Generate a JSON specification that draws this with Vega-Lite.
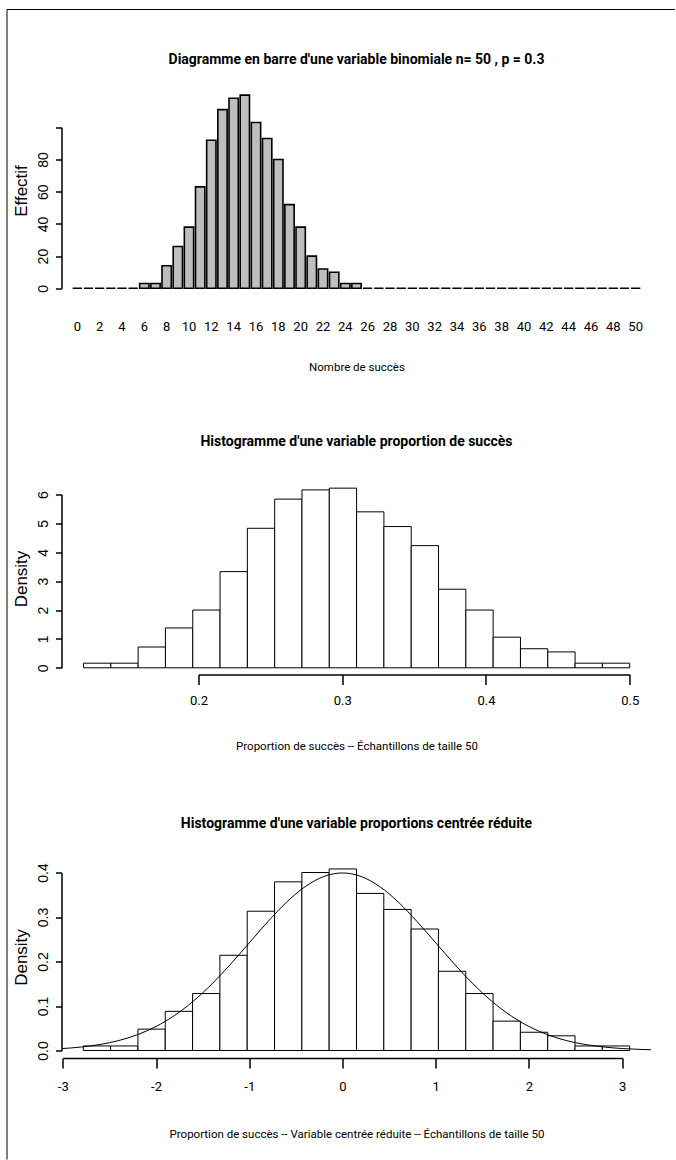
{
  "$schema": "https://vega.github.io/schema/vega-lite/v6.json",
  "background": "white",
  "padding": {"left": 6.5, "top": 8.5, "right": 0, "bottom": 0},
  "bounds": "flush",
  "spacing": 54,
  "config": {
    "view": {"stroke": null},
    "axis": {"grid": false, "domainColor": "black", "tickColor": "black", "labelColor": "black", "titleColor": "black", "domainWidth": 1.5, "tickWidth": 1.5, "labelOverlap": false, "titleFontWeight": "normal"},
    "title": {"font": "Roboto", "fontWeight": "bold", "fontSize": 14, "color": "black", "anchor": "middle", "frame": "group", "baseline": "alphabetic"}
  },
  "datasets": {
    "binom": [
      {"k": 0, "n": 0}, {"k": 1, "n": 0}, {"k": 2, "n": 0}, {"k": 3, "n": 0}, {"k": 4, "n": 0}, {"k": 5, "n": 0},
      {"k": 6, "n": 3}, {"k": 7, "n": 3}, {"k": 8, "n": 14}, {"k": 9, "n": 26}, {"k": 10, "n": 38},
      {"k": 11, "n": 63}, {"k": 12, "n": 92}, {"k": 13, "n": 111}, {"k": 14, "n": 118}, {"k": 15, "n": 120},
      {"k": 16, "n": 103}, {"k": 17, "n": 93}, {"k": 18, "n": 80}, {"k": 19, "n": 52}, {"k": 20, "n": 38},
      {"k": 21, "n": 20}, {"k": 22, "n": 12}, {"k": 23, "n": 10}, {"k": 24, "n": 3}, {"k": 25, "n": 3},
      {"k": 26, "n": 0}, {"k": 27, "n": 0}, {"k": 28, "n": 0}, {"k": 29, "n": 0}, {"k": 30, "n": 0},
      {"k": 31, "n": 0}, {"k": 32, "n": 0}, {"k": 33, "n": 0}, {"k": 34, "n": 0}, {"k": 35, "n": 0},
      {"k": 36, "n": 0}, {"k": 37, "n": 0}, {"k": 38, "n": 0}, {"k": 39, "n": 0}, {"k": 40, "n": 0},
      {"k": 41, "n": 0}, {"k": 42, "n": 0}, {"k": 43, "n": 0}, {"k": 44, "n": 0}, {"k": 45, "n": 0},
      {"k": 46, "n": 0}, {"k": 47, "n": 0}, {"k": 48, "n": 0}, {"k": 49, "n": 0}, {"k": 50, "n": 0}
    ],
    "prop": [
      {"x0": 0.12, "x1": 0.139, "d": 0.16}, {"x0": 0.139, "x1": 0.158, "d": 0.16},
      {"x0": 0.158, "x1": 0.177, "d": 0.72}, {"x0": 0.177, "x1": 0.196, "d": 1.38},
      {"x0": 0.196, "x1": 0.215, "d": 2.0}, {"x0": 0.215, "x1": 0.234, "d": 3.33},
      {"x0": 0.234, "x1": 0.253, "d": 4.83}, {"x0": 0.253, "x1": 0.272, "d": 5.84},
      {"x0": 0.272, "x1": 0.291, "d": 6.16}, {"x0": 0.291, "x1": 0.31, "d": 6.22},
      {"x0": 0.31, "x1": 0.329, "d": 5.4}, {"x0": 0.329, "x1": 0.348, "d": 4.89},
      {"x0": 0.348, "x1": 0.367, "d": 4.23}, {"x0": 0.367, "x1": 0.386, "d": 2.72},
      {"x0": 0.386, "x1": 0.405, "d": 2.0}, {"x0": 0.405, "x1": 0.424, "d": 1.06},
      {"x0": 0.424, "x1": 0.443, "d": 0.66}, {"x0": 0.443, "x1": 0.462, "d": 0.55},
      {"x0": 0.462, "x1": 0.481, "d": 0.16}, {"x0": 0.481, "x1": 0.5, "d": 0.16}
    ],
    "zhist": [
      {"x0": -2.78, "x1": -2.487, "d": 0.0102}, {"x0": -2.487, "x1": -2.194, "d": 0.0102},
      {"x0": -2.194, "x1": -1.901, "d": 0.048}, {"x0": -1.901, "x1": -1.608, "d": 0.088},
      {"x0": -1.608, "x1": -1.315, "d": 0.128}, {"x0": -1.315, "x1": -1.022, "d": 0.214},
      {"x0": -1.022, "x1": -0.729, "d": 0.313}, {"x0": -0.729, "x1": -0.436, "d": 0.379},
      {"x0": -0.436, "x1": -0.143, "d": 0.4}, {"x0": -0.143, "x1": 0.15, "d": 0.408},
      {"x0": 0.15, "x1": 0.443, "d": 0.353}, {"x0": 0.443, "x1": 0.736, "d": 0.317},
      {"x0": 0.736, "x1": 1.029, "d": 0.273}, {"x0": 1.029, "x1": 1.322, "d": 0.178},
      {"x0": 1.322, "x1": 1.615, "d": 0.128}, {"x0": 1.615, "x1": 1.908, "d": 0.066},
      {"x0": 1.908, "x1": 2.201, "d": 0.041}, {"x0": 2.201, "x1": 2.494, "d": 0.033},
      {"x0": 2.494, "x1": 2.787, "d": 0.0102}, {"x0": 2.787, "x1": 3.08, "d": 0.0102}
    ],
    "curve": [
      {"x0": -3.01, "d": 0.0043}, {"x0": -2.8, "d": 0.00792}, {"x0": -2.6, "d": 0.01358},
      {"x0": -2.4, "d": 0.02239}, {"x0": -2.2, "d": 0.03547}, {"x0": -2.0, "d": 0.05399},
      {"x0": -1.8, "d": 0.07895}, {"x0": -1.6, "d": 0.11092}, {"x0": -1.4, "d": 0.14973},
      {"x0": -1.2, "d": 0.19419}, {"x0": -1.0, "d": 0.24197}, {"x0": -0.8, "d": 0.28969},
      {"x0": -0.6, "d": 0.33322}, {"x0": -0.4, "d": 0.36827}, {"x0": -0.2, "d": 0.39104},
      {"x0": 0.0, "d": 0.39894}, {"x0": 0.2, "d": 0.39104}, {"x0": 0.4, "d": 0.36827},
      {"x0": 0.6, "d": 0.33322}, {"x0": 0.8, "d": 0.28969}, {"x0": 1.0, "d": 0.24197},
      {"x0": 1.2, "d": 0.19419}, {"x0": 1.4, "d": 0.14973}, {"x0": 1.6, "d": 0.11092},
      {"x0": 1.8, "d": 0.07895}, {"x0": 2.0, "d": 0.05399}, {"x0": 2.2, "d": 0.03547},
      {"x0": 2.4, "d": 0.02239}, {"x0": 2.6, "d": 0.01358}, {"x0": 2.8, "d": 0.00792},
      {"x0": 3.0, "d": 0.00443}, {"x0": 3.2, "d": 0.00238}, {"x0": 3.31, "d": 0.00166}
    ],
    "frame": [{"f": 0}, {"f": 1}]
  },
  "hconcat": [
    {
      "width": 1,
      "height": 1,
      "data": {"name": "frame"},
      "mark": {"type": "point", "size": 0, "opacity": 0},
      "encoding": {
        "x": {
          "field": "f", "type": "quantitative",
          "scale": {"domain": [0, 1], "range": [0, 668], "nice": false, "zero": false},
          "axis": {"orient": "top", "offset": 77.5, "domain": true, "domainWidth": 1, "ticks": false, "labels": false, "title": null}
        },
        "y": {
          "field": "f", "type": "quantitative",
          "scale": {"domain": [0, 1], "range": [1072.5, -77.5], "nice": false, "zero": false},
          "axis": {"orient": "left", "offset": 0, "domain": true, "domainWidth": 1, "ticks": false, "labels": false, "title": null}
        }
      }
    },
    {
      "bounds": "flush",
      "spacing": 180,
      "vconcat": [
        {
          "width": 590,
          "height": 209.5,
          "title": {"text": "Diagramme en barre d'une variable binomiale n= 50 , p = 0.3", "offset": 19.5},
          "data": {"name": "binom"},
          "mark": {"type": "bar", "fill": "#BEBEBE", "stroke": "black", "strokeWidth": 1.6},
          "encoding": {
            "x": {
              "field": "k", "type": "ordinal",
              "scale": {"paddingInner": 0.1667, "paddingOuter": 2.033},
              "axis": {
                "values": [0, 2, 4, 6, 8, 10, 12, 14, 16, 18, 20, 22, 24, 26, 28, 30, 32, 34, 36, 38, 40, 42, 44, 46, 48, 50],
                "labelAngle": 0, "ticks": false, "tickSize": 0, "domain": false,
                "labelPadding": 34, "labelBaseline": "alphabetic",
                "labelFont": "Roboto", "labelFontSize": 13,
                "title": "Nombre de succès",
                "titleFont": "Roboto", "titleFontSize": 11.5,
                "titleX": 295, "titleY": 74, "titleAlign": "center", "titleBaseline": "alphabetic", "titleAngle": 0
              }
            },
            "y": {
              "field": "n", "type": "quantitative",
              "scale": {"domain": [0, 100], "range": [201.8, 40.8], "nice": false, "zero": false},
              "axis": {
                "values": [0, 20, 40, 60, 80, 100],
                "labelExpr": "datum.value == 100 ? '' : datum.label",
                "tickSize": 6, "labelAngle": -90, "labelAlign": "center", "labelBaseline": "alphabetic", "labelPadding": 8,
                "labelFont": "Liberation Sans", "labelFontSize": 14,
                "title": "Effectif", "titleFont": "Liberation Sans", "titleFontSize": 17,
                "titleAngle": -90, "titleX": -35, "titleY": 104, "titleAlign": "center", "titleBaseline": "alphabetic"
              }
            },
            "y2": {"datum": 0}
          }
        },
        {
          "width": 590,
          "height": 198,
          "title": {"text": "Histogramme d'une variable proportion de succès", "offset": 28},
          "data": {"name": "prop"},
          "mark": {"type": "bar", "fill": "white", "stroke": "black", "strokeWidth": 1},
          "encoding": {
            "x": {
              "field": "x0", "type": "quantitative",
              "scale": {"domain": [0.2, 0.5], "range": [137, 568.2], "nice": false, "zero": false},
              "axis": {
                "values": [0.2, 0.3, 0.4, 0.5], "format": ".1f",
                "tickSize": 10, "labelPadding": 20, "labelBaseline": "alphabetic", "labelFlush": false, "labelAngle": 0,
                "labelFont": "Roboto", "labelFontSize": 13,
                "title": "Proportion de succès -- Échantillons de taille 50",
                "titleFont": "Roboto", "titleFontSize": 11.5,
                "titleX": 295, "titleY": 75, "titleAlign": "center", "titleBaseline": "alphabetic", "titleAngle": 0
              }
            },
            "x2": {"field": "x1"},
            "y": {
              "field": "d", "type": "quantitative",
              "scale": {"domain": [0, 6], "range": [191.3, 18], "nice": false, "zero": false},
              "axis": {
                "values": [0, 1, 2, 3, 4, 5, 6],
                "tickSize": 6, "labelAngle": -90, "labelAlign": "center", "labelBaseline": "alphabetic", "labelPadding": 8,
                "labelFont": "Liberation Sans", "labelFontSize": 14,
                "title": "Density", "titleFont": "Liberation Sans", "titleFontSize": 17,
                "titleAngle": -90, "titleX": -35, "titleY": 102, "titleAlign": "center", "titleBaseline": "alphabetic"
              }
            },
            "y2": {"datum": 0}
          }
        },
        {
          "width": 590,
          "height": 203.5,
          "title": {"text": "Histogramme d'une variable proportions centrée réduite", "offset": 24},
          "encoding": {
            "x": {
              "field": "x0", "type": "quantitative",
              "scale": {"domain": [-3, 3], "range": [1.3, 560.7], "nice": false, "zero": false},
              "axis": {
                "values": [-3, -2, -1, 0, 1, 2, 3], "labelExpr": "'' + datum.value",
                "tickSize": 10, "labelPadding": 22, "labelBaseline": "alphabetic", "labelFlush": false, "labelAngle": 0,
                "labelFont": "Roboto", "labelFontSize": 13,
                "title": "Proportion de succès -- Variable centrée réduite -- Échantillons de taille 50",
                "titleFont": "Roboto", "titleFontSize": 11.5,
                "titleX": 295, "titleY": 79, "titleAlign": "center", "titleBaseline": "alphabetic", "titleAngle": 0
              }
            },
            "y": {
              "field": "d", "type": "quantitative",
              "scale": {"domain": [0, 0.4], "range": [196, 18], "nice": false, "zero": false},
              "axis": {
                "values": [0, 0.1, 0.2, 0.3, 0.4], "format": ".1f",
                "tickSize": 6, "labelAngle": -90, "labelAlign": "center", "labelBaseline": "alphabetic", "labelPadding": 8,
                "labelFont": "Liberation Sans", "labelFontSize": 14,
                "title": "Density", "titleFont": "Liberation Sans", "titleFontSize": 17,
                "titleAngle": -90, "titleX": -35, "titleY": 102.5, "titleAlign": "center", "titleBaseline": "alphabetic"
              }
            }
          },
          "layer": [
            {
              "data": {"name": "zhist"},
              "mark": {"type": "bar", "fill": "white", "stroke": "black", "strokeWidth": 1},
              "encoding": {"x2": {"field": "x1"}, "y2": {"datum": 0}}
            },
            {
              "data": {"name": "curve"},
              "mark": {"type": "line", "stroke": "black", "strokeWidth": 1, "interpolate": "monotone"},
              "encoding": {}
            }
          ]
        }
      ]
    }
  ]
}
